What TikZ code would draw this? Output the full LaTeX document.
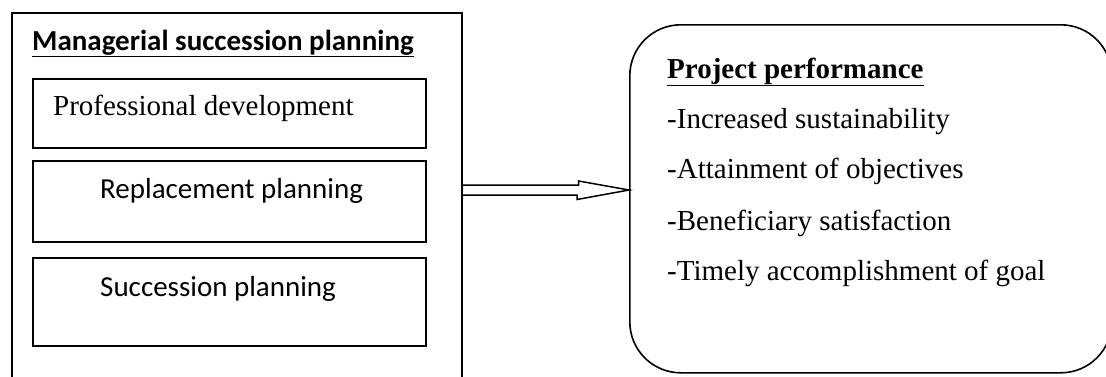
\documentclass[tikz,border=0pt]{standalone}
\usepackage{fontspec}
\setmainfont{Liberation Serif}
\newfontfamily\calibri{Carlito}
\usetikzlibrary{positioning}
\tikzset{
    frame/.style={draw, line width=1.6pt, rectangle, inner sep=0pt, anchor=north west},
    item/.style={anchor=base west, inner sep=0pt, font=\fontsize{29}{34}\selectfont},
    sansitem/.style={item, font=\calibri\fontsize{29}{34}\selectfont},
}
\begin{document}
\begin{tikzpicture}[x=1pt,y=-1pt]
    \useasboundingbox (0,0) rectangle (1106,376);
    % managerial succession planning
    \node[frame, minimum width=450pt, minimum height=368pt] (msp) at (11,12) {};
    \node[sansitem, font=\calibri\bfseries\fontsize{29}{34}\selectfont] (msptitle) at (32,50) {\underline{Managerial succession planning}};
    \node[frame, minimum width=393pt, minimum height=69pt] (prof) at (32,78) {};
    \node[frame, minimum width=393pt, minimum height=81pt] (repl) at (32,160) {};
    \node[frame, minimum width=393pt, minimum height=88pt] (succ) at (32,257) {};
    \node[item] (proftext) at (53,115) {Professional development};
    \node[sansitem] (repltext) at (100,198) {Replacement planning};
    \node[sansitem] (succtext) at (100,296) {Succession planning};
    % project performance
    \node[frame, rounded corners=51pt, minimum width=482pt, minimum height=348pt] (perf) at (629,24) {};
    \node[item, font=\bfseries\fontsize{29}{34}\selectfont] (perftitle) at (667,78) {\underline{Project performance}};
    \node[item] (sust) at (667,128) {-Increased sustainability};
    \node[item] (obj) at (667,178) {-Attainment of objectives};
    \node[item] (sat) at (667,230) {-Beneficiary satisfaction};
    \node[item] (goal) at (667,280) {-Timely accomplishment of goal};
    % hollow arrow
    \coordinate (tail) at (msp.east |- 0,190);
    \draw[line width=1.5pt] (tail) ++(0,-5) -- ++(116,0) -- ++(0,-4) -- (perf.west |- tail)
        -- ++(-52,9.5) -- ++(0,-4.5) -- ++(-116,0);
\end{tikzpicture}
\end{document}
